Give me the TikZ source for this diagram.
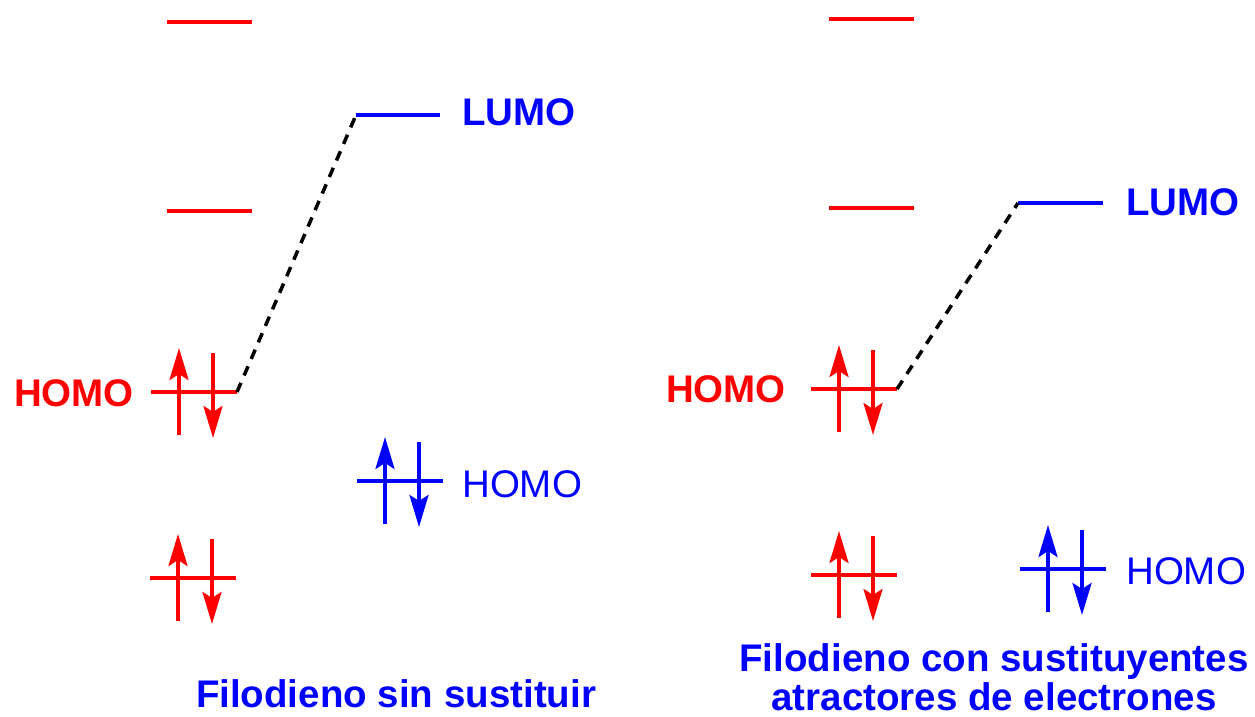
\documentclass[tikz,border=0pt]{standalone}
\usepackage{fontspec}
\setmainfont{Liberation Sans}
\usetikzlibrary{arrows.meta}

\tikzset{
  orbital/.style={line width=3.2pt},
  spin/.style={line width=3.6pt, -{Stealth[length=32pt, width=19pt, inset=6pt]}},
  link/.style={black, line width=3.5pt, dash pattern=on 10pt off 8pt},
  lbl/.style={inner sep=0pt, font=\fontsize{38.5}{39}\selectfont},
  boldlbl/.style={lbl, font=\fontsize{38.5}{39}\selectfont\bfseries},
}

\begin{document}
\begin{tikzpicture}[x=1pt, y=-1pt]
    \useasboundingbox (0,0) rectangle (1255,717);

    % Empty red levels (both dienophiles)
    \foreach \lx/\ly in {167/22, 167/211, 829/19, 829/208}
        \draw[orbital, red] (\lx,\ly) -- ++(85,0);

    % Filled levels: left end, height, colour
    \foreach \lx/\ly/\col in {151/392/red, 150/578/red, 357/481/blue,
                              811/389/red, 811/575/red, 1020/569/blue} {
        \draw[orbital, \col] (\lx,\ly) -- ++(86,0);
        \draw[spin, \col] (\lx+28,\ly+43) -- (\lx+28,\ly-44);
        \draw[spin, \col] (\lx+62,\ly-39) -- (\lx+62,\ly+46);
    }

    % LUMO levels of the diene and the dashed links
    \coordinate (homoA) at (237,392);
    \coordinate (lumoA) at (356,115);
    \coordinate (homoB) at (897,389);
    \coordinate (lumoB) at (1018,203);
    \draw[orbital, blue] (lumoA) -- ++(84,0);
    \draw[orbital, blue] (lumoB) -- ++(85,0);
    \draw[link] (homoA) -- (lumoA);
    \draw[link] (homoB) -- (lumoB);

    % Labels
    \node[boldlbl, anchor=base west, blue] (lumoLblA) at (462,125) {LUMO};
    \node[boldlbl, anchor=base west, blue] (lumoLblB) at (1126,215) {LUMO};
    \node[boldlbl, anchor=base east, red] (homoLblA) at (134,406) {HOMO};
    \node[boldlbl, anchor=base east, red] (homoLblB) at (786,402) {HOMO};
    \node[lbl, anchor=base west, blue] (dieneLblA) at (462,497) {HOMO};
    \node[lbl, anchor=base west, blue] (dieneLblB) at (1126,584) {HOMO};

    % Captions
    \node[boldlbl, anchor=base, blue] (capA) at (396,707) {Filodieno sin sustituir};
    \node[boldlbl, anchor=base, blue, align=center] (capB) at (994,710)
        {Filodieno con sustituyentes\\atractores de electrones};
\end{tikzpicture}
\end{document}
